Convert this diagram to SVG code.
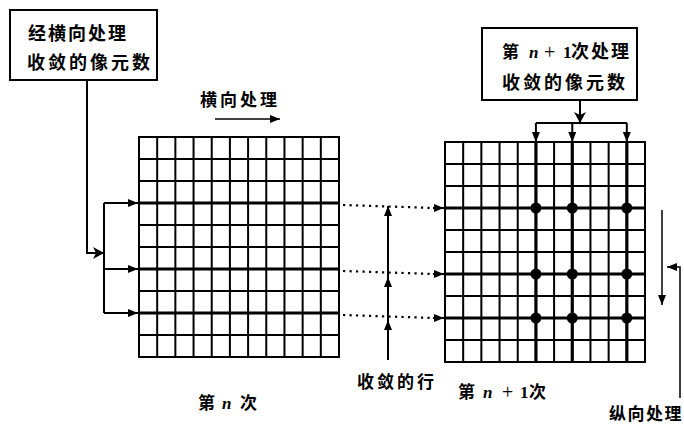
<svg xmlns="http://www.w3.org/2000/svg" width="684" height="426" viewBox="0 0 684 426">
<style>
.t{font-family:"Noto Sans CJK SC","Noto Sans CJK JP",sans-serif;font-weight:bold;font-size:17px;fill:#000}
.n{font-family:"Liberation Serif",serif;font-style:italic;font-weight:bold;font-size:17px;fill:#000}
.p{font-family:"Liberation Serif",serif;font-size:20px;fill:#000}
.box{fill:#fff;stroke:#000;stroke-width:2}
.g{stroke:#000;stroke-width:2;fill:none}
.h{stroke:#000;stroke-width:3.2;fill:none}
.c{stroke:#000;stroke-width:2;fill:none}
.d{stroke:#000;stroke-width:2.2;fill:none;stroke-dasharray:2.2 4.3}
.thin{stroke:#000;stroke-width:1.5;fill:none}
</style>
<defs>
<marker id="a" markerUnits="userSpaceOnUse" markerWidth="12" markerHeight="10" refX="10" refY="4" orient="auto">
<path d="M0,0 L10,4 L0,8 Z" fill="#000"/>
</marker>
<marker id="b" markerUnits="userSpaceOnUse" markerWidth="14" markerHeight="14" refX="11" refY="6" orient="auto">
<path d="M0,0 L11,6 L0,12 L3,6 Z" fill="#000"/>
</marker>
</defs>
<rect width="684" height="426" fill="#fff"/>

<g id="box-left">
<rect class="box" x="10" y="10" width="147" height="70"/>
<text class="t" x="28" y="40" style="font-size:18px;letter-spacing:2px">经横向处理</text>
<text class="t" x="27" y="69" style="font-size:18px;letter-spacing:3px">收敛的像元数</text>
</g>

<g id="box-right">
<rect class="box" x="482" y="28" width="155" height="72"/>
<text class="t" x="502" y="58" style="font-size:17px">第</text>
<text class="n" x="529" y="58">n</text>
<text class="p" x="544" y="59">+</text>
<text class="n" x="563" y="58" style="font-style:normal">1</text>
<text class="t" x="571" y="58" style="font-size:18px;letter-spacing:2px">次处理</text>
<text class="t" x="502" y="89" style="font-size:18px;letter-spacing:3px">收敛的像元数</text>
</g>

<g id="grid-n">
<rect class="g" x="139" y="137" width="200" height="220"/>
<path class="g" d="M157.18,137V357M175.36,137V357M193.55,137V357M211.73,137V357M229.91,137V357M248.09,137V357M266.27,137V357M284.45,137V357M302.64,137V357M320.82,137V357"/>
<path class="g" d="M139,159H339M139,181H339M139,225H339M139,247H339M139,291H339M139,335H339"/>
<path class="h" d="M139,203H339M139,269H339M139,313H339"/>
</g>

<g id="grid-n1">
<rect class="g" x="445" y="142" width="200" height="220"/>
<path class="g" d="M463.18,142V362M481.36,142V362M499.55,142V362M517.73,142V362M554.09,142V362M590.45,142V362M608.64,142V362"/>
<path class="h" d="M535.91,142V362M572.27,142V362M626.82,142V362"/>
<path class="g" d="M445,164H645M445,186H645M445,230H645M445,252H645M445,296H645M445,340H645"/>
<path class="h" d="M445,208H645M445,274H645M445,318H645"/>
<g fill="#000">
<circle cx="535.91" cy="208" r="5.5"/><circle cx="572.27" cy="208" r="5.5"/><circle cx="626.82" cy="208" r="5.5"/>
<circle cx="535.91" cy="274" r="5.5"/><circle cx="572.27" cy="274" r="5.5"/><circle cx="626.82" cy="274" r="5.5"/>
<circle cx="535.91" cy="318" r="5.5"/><circle cx="572.27" cy="318" r="5.5"/><circle cx="626.82" cy="318" r="5.5"/>
</g>
</g>

<g id="connectors">
<path class="c" d="M87,80V253H104" marker-end="url(#b)"/>
<path class="c" d="M104,203V313"/>
<path class="c" d="M104,203H138" marker-end="url(#a)"/>
<path class="c" d="M104,269H138" marker-end="url(#a)"/>
<path class="c" d="M104,313H138" marker-end="url(#a)"/>

<path class="d" d="M343,205L434,208"/>
<path class="d" d="M343,271L434,274"/>
<path class="d" d="M343,315L434,318"/>
<path class="c" d="M433,208H444" marker-end="url(#a)"/>
<path class="c" d="M433,274H444" marker-end="url(#a)"/>
<path class="c" d="M433,318H444" marker-end="url(#a)"/>

<path class="c" d="M388,360V320" marker-end="url(#a)"/>
<path class="c" d="M388,320V277" marker-end="url(#a)"/>
<path class="c" d="M388,277V206" marker-end="url(#a)"/>

<path class="c" d="M580,100V123" marker-end="url(#b)"/>
<path class="c" d="M536,123H627"/>
<path class="c" d="M535.91,123V142" marker-end="url(#a)"/>
<path class="c" d="M572.27,123V142" marker-end="url(#a)"/>
<path class="c" d="M626.82,123V142" marker-end="url(#a)"/>

<path class="thin" d="M215,119H280" marker-end="url(#a)"/>
<path class="thin" d="M662,210V305" marker-end="url(#a)"/>
<path class="thin" d="M680,398V267H667" marker-end="url(#a)"/>
</g>

<g id="labels">
<text class="t" x="200" y="106" style="letter-spacing:3px">横向处理</text>
<text class="t" x="357" y="388" style="letter-spacing:3px">收敛的行</text>
<text class="t" x="198" y="409">第</text>
<text class="n" x="222" y="409">n</text>
<text class="t" x="240" y="409">次</text>
<text class="t" x="458" y="398">第</text>
<text class="n" x="483" y="398">n</text>
<text class="p" x="502" y="399">+</text>
<text class="n" x="520" y="398" style="font-style:normal">1</text>
<text class="t" x="529" y="398">次</text>
<text class="t" x="609" y="420" style="letter-spacing:1.5px">纵向处理</text>
</g>
</svg>
